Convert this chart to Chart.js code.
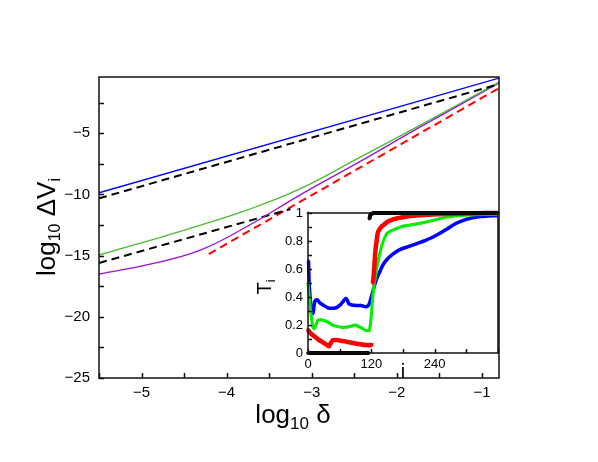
<!DOCTYPE html>
<html>
<head>
<meta charset="utf-8">
<script src="https://cdn.jsdelivr.net/npm/chart.js@4.4.0/dist/chart.umd.min.js"></script>
<style>
  body { margin: 0; background: #fff; }
  #wrap { position: relative; width: 598px; height: 462px; }
  #mainChart { position: absolute; left: 0; top: 0; }
  #insetChart { position: absolute; left: 240px; top: 200px; }
</style>
</head>
<body>
<div id="wrap">
  <canvas id="mainChart" width="598" height="462"></canvas>
  <canvas id="insetChart" width="270" height="190"></canvas>
</div>
<script>
// main panel: log10 dV_i against log10 delta
const blueX = [-5.5, -0.8];
const blueY = [-9.86, -0.49];

const dashTopX = [-5.5, -0.8];
const dashTopY = [-10.32, -0.98];

const greenX = [-5.5, -4.9, -4.43, -3.73, -3.14, -2.43, -1.73, -0.8];
const greenY = [-14.95, -13.75, -12.78, -11.2, -9.55, -6.95, -4.35, -0.82];

const purpleX = [-5.5, -4.9, -4.31, -3.73, -3.14, -2.43, -1.73, -0.8];
const purpleY = [-16.5, -15.7, -14.55, -12.5, -10.05, -7.3, -4.5, -0.9];

const dashLowX = [-5.5, -3.25];
const dashLowY = [-15.6, -11.2];

const redX = [-4.21, -0.8];
const redY = [-14.87, -1.31];

// inset: T_i against i
const tBlackI = [0, 115, 116, 116.5, 118, 121, 125, 360];
const tBlackT = [0, 0, null, 0.96, 0.985, 0.995, 1, 1];

const tRedI = [0, 5, 10, 15, 20, 25, 30, 35, 40, 43, 47, 55, 62, 70, 80, 90, 100, 110, 118, 121,
    122, 123, 125, 126, 128, 130, 132, 135, 140, 145, 152, 160, 170, 180, 200, 230, 260, 300, 360];
const tRedT = [0.165, 0.14, 0.125, 0.11, 0.095, 0.083, 0.072, 0.06, 0.048, 0.07, 0.092, 0.093, 0.088, 0.083, 0.075, 0.068, 0.062, 0.057, 0.055, 0.06,
    null, 0.5, 0.58, 0.64, 0.74, 0.8, 0.855, 0.88, 0.905, 0.92, 0.94, 0.953, 0.963, 0.97, 0.98, 0.988, 0.993, 0.997, 1.0];

const tGreenI = [0, 1, 3, 5, 7, 9, 12, 15, 19, 24, 30, 38, 46, 55, 65, 75, 85, 90, 95, 102, 110, 116,
    118, 120, 122, 124, 127, 130, 133, 136, 140, 145, 150, 156, 165, 180, 195, 215, 235, 250, 270, 300, 330, 360];
const tGreenT = [0.5, 0.45, 0.38, 0.3, 0.24, 0.19, 0.175, 0.2, 0.235, 0.237, 0.232, 0.22, 0.2, 0.19, 0.183, 0.185, 0.195, 0.2, 0.19, 0.178, 0.16, 0.16,
    0.2, 0.27, 0.37, 0.45, 0.53, 0.6, 0.66, 0.71, 0.77, 0.82, 0.855, 0.87, 0.885, 0.905, 0.915, 0.928, 0.945, 0.96, 0.975, 0.985, 0.99, 0.99];

const tBlueI = [0, 0.5, 1, 2, 4, 6, 9, 13, 17, 22, 30, 40, 50, 60, 67, 72, 78, 90, 100, 110, 116,
    120, 125, 130, 136, 142, 150, 160, 175, 190, 205, 220, 235, 250, 265, 280, 300, 320, 340, 360];
const tBlueT = [1.0, null, 0.66, 0.52, 0.4, 0.31, 0.28, 0.37, 0.38, 0.36, 0.34, 0.32, 0.32, 0.34, 0.37, 0.39, 0.35, 0.34, 0.34, 0.33, 0.35,
    0.4, 0.47, 0.53, 0.58, 0.63, 0.67, 0.705, 0.74, 0.76, 0.78, 0.8, 0.825, 0.855, 0.89, 0.925, 0.955, 0.972, 0.978, 0.98];

Chart.defaults.font.family = '"Liberation Sans", Arial, sans-serif';
Chart.defaults.color = '#000';

function pts(xs, ys) {
    return xs.map((x, k) => ({x: x, y: ys[k]}));
}

function minus(v) {
    return v < 0 ? '\u2212' + Math.abs(v) : String(v);
}

// text with subscripts, centred on (x, y)
function drawRich(ctx, segs, x, y, rot) {
    ctx.save();
    ctx.translate(x, y);
    ctx.rotate(rot);
    let w = 0;
    segs.forEach(s => {
        ctx.font = s.size + 'px "Liberation Sans", Arial, sans-serif';
        s.w = ctx.measureText(s.t).width;
        w += s.w;
    });
    let cx = -w / 2;
    ctx.fillStyle = '#000';
    ctx.textAlign = 'left';
    ctx.textBaseline = 'alphabetic';
    segs.forEach(s => {
        ctx.font = s.size + 'px "Liberation Sans", Arial, sans-serif';
        ctx.fillText(s.t, cx, s.dy || 0);
        cx += s.w;
    });
    ctx.restore();
}

// box, inward ticks and axis titles
const frame = {
    id: 'frame',
    beforeDatasetsDraw(chart, args, opts) {
        if (!opts.fill) return;
        const a = chart.chartArea;
        chart.ctx.save();
        chart.ctx.fillStyle = '#fff';
        chart.ctx.fillRect(a.left, a.top, a.width, a.height);
        chart.ctx.restore();
    },
    afterDraw(chart, args, opts) {
        const {ctx, chartArea: a, scales} = chart;
        ctx.save();
        ctx.strokeStyle = '#111';
        ctx.lineWidth = opts.lw;
        ctx.beginPath();
        scales.x.ticks.forEach(t => {
            const p = Math.round(scales.x.getPixelForValue(t.value)) + 0.5;
            ctx.moveTo(p, a.bottom);
            ctx.lineTo(p, a.bottom - opts.tick);
        });
        scales.y.ticks.forEach(t => {
            const p = Math.round(scales.y.getPixelForValue(t.value)) + 0.5;
            ctx.moveTo(a.left, p);
            ctx.lineTo(a.left + opts.tick, p);
        });
        ctx.stroke();
        ctx.strokeRect(a.left, a.top, a.width, a.height);
        ctx.restore();
        opts.titles.forEach(tt => drawRich(ctx, tt.segs, tt.x, tt.y, tt.rot || 0));
    }
};

const mainChart = new Chart(document.getElementById('mainChart'), {
    type: 'scatter',
    data: {
        datasets: [
            {data: pts(blueX, blueY), borderColor: '#0000ff', borderWidth: 1.3},
            {data: pts(dashTopX, dashTopY), borderColor: '#000', borderWidth: 2, borderDash: [8, 5]},
            {data: pts(greenX, greenY), borderColor: '#4cbb34', borderWidth: 1.3, tension: 0.4},
            {data: pts(purpleX, purpleY), borderColor: '#9b10d6', borderWidth: 1.3, tension: 0.4},
            {data: pts(dashLowX, dashLowY), borderColor: '#000', borderWidth: 2, borderDash: [8, 5]},
            {data: pts(redX, redY), borderColor: '#ff0000', borderWidth: 2, borderDash: [8, 5]},
        ].map(d => Object.assign({showLine: true, pointRadius: 0, fill: false}, d))
    },
    options: {
        responsive: false,
        animation: false,
        layout: {padding: {top: 77, right: 99, left: 0, bottom: 0}},
        plugins: {
            legend: {display: false},
            tooltip: {enabled: false},
            frame: {
                lw: 1.5, tick: 5, fill: false,
                titles: [
                    {segs: [{t: 'log', size: 26}, {t: '10', size: 17, dy: 6}, {t: ' \u03b4', size: 26}], x: 293, y: 423},
                    {segs: [{t: 'log', size: 26}, {t: '10', size: 16, dy: 5}, {t: ' \u0394V', size: 26}, {t: 'i', size: 16, dy: 5}], x: 55, y: 227, rot: -Math.PI / 2},
                ]
            }
        },
        scales: {
            x: {
                type: 'linear', min: -5.5, max: -0.8,
                afterFit(s) { s.height = 84; },
                grid: {display: false, drawTicks: false},
                border: {display: false},
                ticks: {
                    stepSize: 0.5, includeBounds: false, autoSkip: false, maxRotation: 0,
                    padding: 6, font: {size: 15},
                    callback: v => Number.isInteger(v) ? minus(v) : ''
                }
            },
            y: {
                type: 'linear', min: -25, max: -0.4,
                afterFit(s) { s.width = 99; },
                grid: {display: false, drawTicks: false},
                border: {display: false},
                ticks: {
                    stepSize: 2.5, includeBounds: false, autoSkip: false,
                    padding: 9, font: {size: 15},
                    callback: v => (v % 5 === 0) ? minus(v) : ''
                }
            }
        }
    },
    plugins: [frame]
});

const insetChart = new Chart(document.getElementById('insetChart'), {
    type: 'scatter',
    data: {
        datasets: [
            {data: pts(tBlackI, tBlackT), borderColor: '#000', backgroundColor: '#000', borderWidth: 4, pointStyle: 'circle', pointRadius: 1.8},
            {data: pts(tRedI, tRedT), borderColor: '#ff0000', backgroundColor: '#ff0000', borderWidth: 4.5, pointStyle: 'rect', pointRadius: 2.2},
            {data: pts(tGreenI, tGreenT), borderColor: '#00ee00', backgroundColor: '#00ee00', borderWidth: 3, pointStyle: 'rectRot', pointRadius: 1.8},
            {data: pts(tBlueI, tBlueT), borderColor: '#0000ff', backgroundColor: '#0000ff', borderWidth: 3.5, pointStyle: 'triangle', pointRadius: 2},
        ].map(d => Object.assign({showLine: true, clip: false, pointBorderWidth: 0, cubicInterpolationMode: 'monotone', spanGaps: false}, d))
    },
    options: {
        responsive: false,
        animation: false,
        layout: {padding: {top: 13, right: 12, left: 0, bottom: 0}},
        plugins: {
            legend: {display: false},
            tooltip: {enabled: false},
            frame: {
                lw: 1.5, tick: 4, fill: true,
                titles: [
                    {segs: [{t: 'T', size: 20}, {t: 'i', size: 13, dy: 4}], x: 31, y: 87, rot: -Math.PI / 2},
                    {segs: [{t: 'i', size: 20}], x: 163, y: 178},
                ]
            }
        },
        scales: {
            x: {
                type: 'linear', min: 0, max: 360,
                afterFit(s) { s.height = 37; },
                grid: {display: false, drawTicks: false},
                border: {display: false},
                ticks: {
                    stepSize: 60, includeBounds: false, autoSkip: false, maxRotation: 0,
                    padding: 4, font: {size: 13},
                    callback: v => (v % 120 === 0 && v < 360) ? String(v) : ''
                }
            },
            y: {
                type: 'linear', min: 0, max: 1,
                afterFit(s) { s.width = 68; },
                grid: {display: false, drawTicks: false},
                border: {display: false},
                ticks: {
                    stepSize: 0.1, autoSkip: false,
                    padding: 5, font: {size: 13},
                    callback: v => {
                        const k = Math.round(v * 10);
                        return k % 2 === 0 ? String(k / 10) : '';
                    }
                }
            }
        }
    },
    plugins: [frame]
});
</script>
</body>
</html>
